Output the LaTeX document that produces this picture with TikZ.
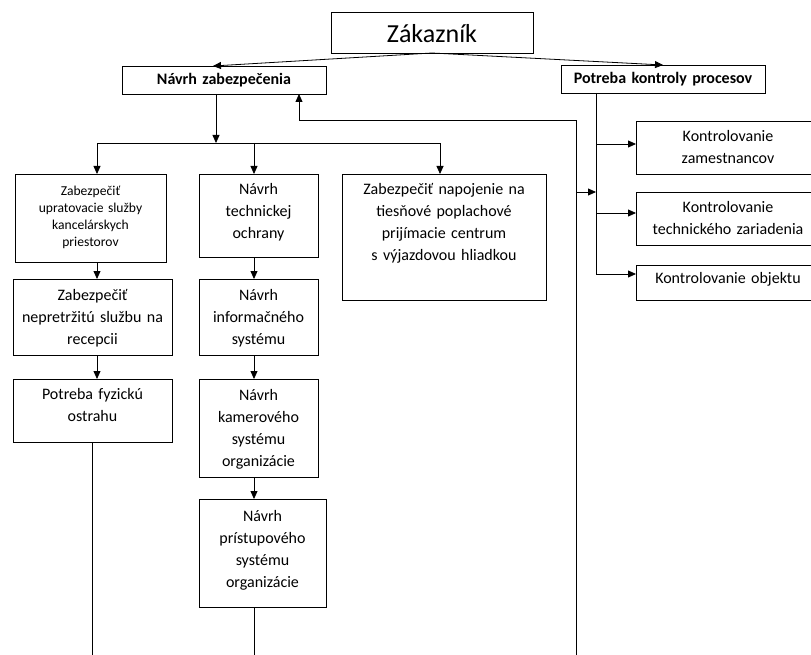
\documentclass[tikz,border=0pt]{standalone}
\usepackage{fontspec}
\setmainfont{Carlito}
\usetikzlibrary{arrows.meta}

\begin{document}
\begin{tikzpicture}[x=1pt,y=-1pt,
  box/.style={draw=black, line width=0.8pt, inner sep=0pt, outer sep=0pt,
              anchor=north west, align=center},
  big/.style={font=\fontsize{26}{30}\selectfont},
  head/.style={font=\bfseries\fontsize{16}{20}\selectfont},
  norm/.style={font=\fontsize{16}{22}\selectfont},
  small/.style={font=\fontsize{13.6}{17}\selectfont},
  ln/.style={line width=0.8pt},
  arr/.style={line width=0.8pt, -{Triangle[length=8pt,width=7pt]}}]

\useasboundingbox (0,0) rectangle (811,655);
\clip (0,0) rectangle (811,655);

% top level
\node[box, big, text width=202pt, text height=31pt, text depth=10pt] (zak) at (331,12) {Zákazník};
\node[box, head, text width=204pt, text height=19pt, text depth=9pt] (nz) at (122,66) {Návrh zabezpečenia};
\node[box, head, text width=204pt, text height=19pt, text depth=9pt] (pk) at (561,65) {Potreba kontroly procesov};

% left column
\node[box, small, text width=151pt, text height=22pt, text depth=66pt] (a1) at (15,174)
  {Zabezpečiť\\upratovacie služby\\kancelárskych\\priestorov};
\node[box, norm, text width=159pt, text height=21pt, text depth=55pt] (a2) at (13,279)
  {Zabezpečiť\\nepretržitú službu na\\recepcii};
\node[box, norm, text width=159pt, text height=20pt, text depth=43pt] (a3) at (13,379)
  {Potreba fyzickú\\ostrahu};

% middle column
\node[box, norm, text width=119pt, text height=21pt, text depth=62pt] (b1) at (199,174)
  {Návrh\\technickej\\ochrany};
\node[box, norm, text width=119pt, text height=21pt, text depth=55pt] (b2) at (199,279)
  {Návrh\\informačného\\systému};
\node[box, norm, text width=119pt, text height=21pt, text depth=77pt] (b3) at (199,379)
  {Návrh\\kamerového\\systému\\organizácie};
\node[box, norm, text width=127pt, text height=22pt, text depth=86pt] (b4) at (199,499)
  {Návrh\\prístupového\\systému\\organizácie};

% alarm centre
\node[box, norm, text width=204pt, text height=21pt, text depth=105pt] (c1) at (342,174)
  {Zabezpečiť napojenie na\\tiesňové poplachové\\prijímacie centrum\\s výjazdovou hliadkou};

% process control branch
\node[box, norm, text width=184pt, text height=21pt, text depth=32pt] (k1) at (636,121)
  {Kontrolovanie\\zamestnancov};
\node[box, norm, text width=184pt, text height=21pt, text depth=32pt] (k2) at (636,192)
  {Kontrolovanie\\technického zariadenia};
\node[box, norm, text width=184pt, text height=18pt, text depth=17pt] (k3) at (636,265)
  {Kontrolovanie objektu};

% junction points
\coordinate (bj) at (216,143);
\coordinate (bl) at (97,143);
\coordinate (bm) at (254,143);
\coordinate (br) at (440,143);
\coordinate (bottom) at (0,660);
\coordinate (k1in) at (596,144);
\coordinate (k2in) at (596,213);
\coordinate (k3in) at (596,274);
\coordinate (jn) at (596,192);
\coordinate (lt) at (576,120);
\coordinate (lx) at (299,120);

% connectors from the customer
\draw[arr] (zak.south) -- ([xshift=-11pt]nz.north);
\draw[arr] (zak.south) -- (pk.north);

% design branch
\draw[arr] (nz.south -| bj) -- (bj);
\draw[arr] (bm) -- (bl) -- (a1.north -| bl);
\draw[arr] (bm) -- (br) -- (c1.north -| br);
\draw[arr] (bm) -- (b1.north -| bm);

\draw[arr] (a1.south -| bl) -- (a2.north -| bl);
\draw[arr] (a2.south -| bl) -- (a3.north -| bl);
\draw[ln] (a3.south) -- (a3.south |- bottom);

\draw[arr] (b1.south -| bm) -- (b2.north -| bm);
\draw[arr] (b2.south -| bm) -- (b3.north -| bm);
\draw[arr] (b3.south -| bm) -- (b4.north -| bm);
\draw[ln] (b4.south -| bm) -- (bm |- bottom);

% control branch
\draw[arr] (pk.south -| k3in) -- (k3in) -- (k3in -| k3.west);
\draw[arr] (k1in) -- (k1in -| k1.west);
\draw[arr] (k2in) -- (k2in -| k2.west);

% feedback loop
\draw[arr] (lt |- bottom) -- (lt) -- (lx) -- (nz.south -| lx);
\draw[arr] (lt |- jn) -- (jn);
\end{tikzpicture}
\end{document}
